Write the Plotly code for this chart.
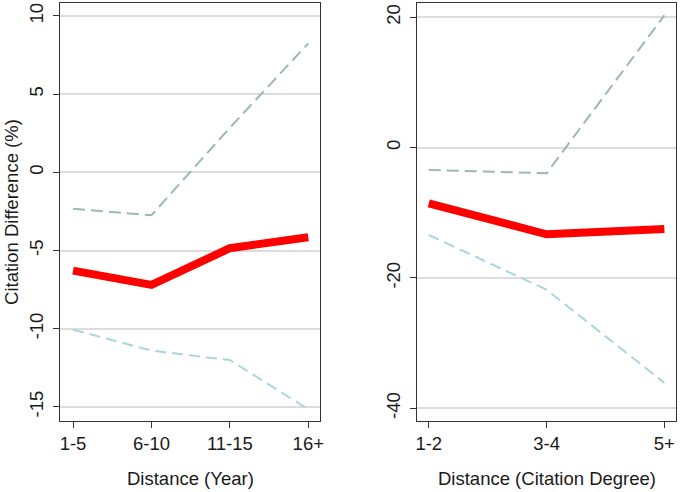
import plotly.graph_objects as go

# Left panel: distance in years
year_cats = ["1-5", "6-10", "11-15", "16+"]
year_est = [-6.28, -7.2, -4.85, -4.15]
year_upper = [-2.33, -2.74, 2.85, 8.25]
year_lower = [-10.06, -11.4, -12.0, -15.15]

# Right panel: distance in citation degree
deg_cats = ["1-2", "3-4", "5+"]
deg_est = [-8.55, -13.3, -12.47]
deg_upper = [-3.42, -3.93, 20.3]
deg_lower = [-13.4, -21.8, -36.1]

left_ticks = [-15, -10, -5, 0, 5, 10]
right_ticks = [-40, -20, 0, 20]

RED = "#ff0000"
UP = "#9db8b0"
LO = "#a9d6de"
FONT = "Liberation Sans, Arial, sans-serif"
FS = 18.5

fig = go.Figure()

def add_panel(cats, est, up, lo, xa, ya):
    x = list(range(len(cats)))
    fig.add_trace(go.Scatter(x=x, y=up, mode="lines", xaxis=xa, yaxis=ya,
                             line=dict(color=UP, width=2, dash="12px,6px"),
                             showlegend=False, hoverinfo="skip"))
    fig.add_trace(go.Scatter(x=x, y=lo, mode="lines", xaxis=xa, yaxis=ya,
                             line=dict(color=LO, width=2, dash="11px,6px"),
                             showlegend=False, hoverinfo="skip"))
    fig.add_trace(go.Scatter(x=x, y=est, mode="lines", xaxis=xa, yaxis=ya,
                             line=dict(color=RED, width=8),
                             showlegend=False))

add_panel(year_cats, year_est, year_upper, year_lower, "x", "y")
add_panel(deg_cats, deg_est, deg_upper, deg_lower, "x2", "y2")

W, H = 685, 492
ydom = [1 - 421 / H, 1 - 3 / H]
common_axis = dict(showline=True, linecolor="#333333", linewidth=1, mirror=True,
                   ticks="outside", ticklen=6, tickcolor="#333333", tickwidth=1,
                   tickfont=dict(family=FONT, size=FS, color="#1a1a1a"),
                   zeroline=False)

fig.update_layout(
    width=W, height=H,
    margin=dict(l=0, r=0, t=0, b=0),
    paper_bgcolor="white", plot_bgcolor="white",
    font=dict(family=FONT, size=FS, color="#1a1a1a"),
    xaxis=dict(domain=[59 / W, 320.7 / W], range=[-0.16, 3.148],
               tickmode="array", tickvals=list(range(len(year_cats))),
               ticktext=year_cats, showgrid=False, anchor="y", **common_axis),
    yaxis=dict(domain=ydom, range=[-15.9, 10.83], tickmode="array",
               tickvals=left_ticks, ticktext=[str(v) for v in left_ticks],
               tickangle=-90, showgrid=True, gridcolor="#dcdcdc", gridwidth=1.5,
               ticklabelstandoff=3, anchor="x", **common_axis),
    xaxis2=dict(domain=[419 / W, 680 / W], range=[-0.097, 2.099],
                tickmode="array", tickvals=list(range(len(deg_cats))),
                ticktext=deg_cats, showgrid=False, anchor="y2", **common_axis),
    yaxis2=dict(domain=ydom, range=[-41.95, 22.2], tickmode="array",
                tickvals=right_ticks, ticktext=[str(v) for v in right_ticks],
                tickangle=-90, showgrid=True, gridcolor="#dcdcdc", gridwidth=1.5,
                ticklabelstandoff=3, anchor="x2", **common_axis),
    annotations=[
        dict(text="Distance (Year)", xref="paper", yref="paper",
             x=190 / W, y=1 - 478 / H, showarrow=False,
             xanchor="center", yanchor="middle", font=dict(family=FONT, size=FS)),
        dict(text="Distance (Citation Degree)", xref="paper", yref="paper",
             x=550 / W, y=1 - 478 / H, showarrow=False,
             xanchor="center", yanchor="middle", font=dict(family=FONT, size=FS)),
        dict(text="Citation Difference (%)", xref="paper", yref="paper",
             x=9 / W, y=1 - 212 / H, showarrow=False, textangle=-90,
             xanchor="center", yanchor="middle", font=dict(family=FONT, size=FS)),
    ],
)

fig.write_html("out.html", config={"displayModeBar": False},
               post_script="document.body.style.margin='0';document.body.style.overflow='hidden';")
